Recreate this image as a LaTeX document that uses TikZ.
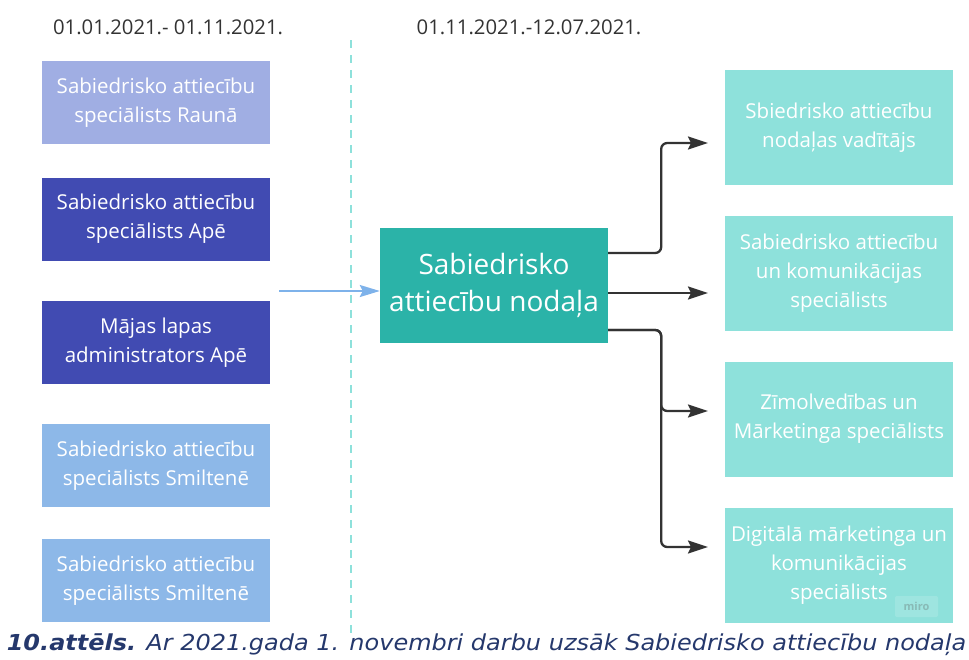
\documentclass[tikz,border=0pt]{standalone}
\usepackage{fontspec}
\setmainfont{Open Sans}
\newfontfamily\capfont{DejaVu Sans}
\usetikzlibrary{arrows.meta}
\definecolor{lilac}{HTML}{A0AEE3}
\definecolor{navy}{HTML}{414BB2}
\definecolor{sky}{HTML}{8DB8E8}
\definecolor{teal}{HTML}{2BB3A8}
\definecolor{mint}{HTML}{8EE1DB}
\definecolor{ink}{HTML}{333333}
\definecolor{capblue}{HTML}{25386C}
\definecolor{flow}{HTML}{7EB2EA}
\tikzset{
  unit/.style={rectangle,inner sep=0pt,minimum width=228pt,text=white,align=center,
    font=\fontsize{20.5}{29}\selectfont},
  oldunit/.style={unit,minimum height=83pt},
  newunit/.style={unit,fill=mint,minimum height=115pt},
  period/.style={text=ink,font=\fontsize{20.3}{24}\selectfont},
  link/.style={ink,line width=2.3pt,rounded corners=6pt,-{Stealth[length=20pt,width=13pt,inset=3pt]}}
}
\begin{document}
\begin{tikzpicture}[x=1pt,y=-1pt]
  \useasboundingbox (0,0) rectangle (969,659);
  % periods
  \node[period] (p1) at (168,27) {01.01.2021.- 01.11.2021.};
  \node[period] (p2) at (529,27) {01.11.2021.-12.07.2021.};
  \draw[mint,line width=2pt,dash pattern=on 8pt off 7pt] (351,40) -- (351,636);
  % before
  \node[oldunit,fill=lilac] (rauna) at (156,102.5) {Sabiedrisko attiecību\\speciālists Raunā};
  \node[oldunit,fill=navy] (ape) at (156,219) {Sabiedrisko attiecību\\speciālists Apē};
  \node[oldunit,fill=navy] (admin) at (156,342.5) {Mājas lapas\\administrators Apē};
  \node[oldunit,fill=sky] (smilt1) at (156,465.5) {Sabiedrisko attiecību\\speciālists Smiltenē};
  \node[oldunit,fill=sky] (smilt2) at (156,580.5) {Sabiedrisko attiecību\\speciālists Smiltenē};
  % after
  \node[unit,fill=teal,minimum height=115pt,font=\fontsize{28}{37}\selectfont] (dept) at (494,285.5)
    {Sabiedrisko\\attiecību nodaļa};
  \node[newunit] (head) at (839,127.5) {Sbiedrisko attiecību\\nodaļas vadītājs};
  \node[newunit] (comm) at (839,273) {Sabiedrisko attiecību\\un komunikācijas\\speciālists};
  \node[newunit] (brand) at (839,419) {Zīmolvedības un\\Mārketinga speciālists};
  \node[newunit] (digi) at (839,565) {Digitālā mārketinga un\\komunikācijas\\speciālists};
  \node[rounded corners=2pt,fill=white,fill opacity=0.15,text opacity=1,text=mint!60!gray,
    minimum width=43pt,minimum height=21pt,inner sep=0pt,font=\fontsize{11}{13}\selectfont\bfseries]
    (miro) at (916.5,606.5) {miro};
  \coordinate (src) at (279,291);
  \coordinate (t1) at (708,143);
  \coordinate (t2) at (708,293);
  \coordinate (t3) at (708,411);
  \coordinate (t4) at (708,547);
  \begin{scope}
    \draw[flow,line width=2pt,-{Stealth[length=20pt,width=12pt,inset=3pt]}] (src) -- ([yshift=-5.5pt]dept.west);
    \draw[link] ([yshift=32.5pt]dept.east) -- ++(53,0) |- (t1);
    \draw[link] ([yshift=-7.5pt]dept.east) -- (t2);
    \draw[link] ([yshift=-44.5pt]dept.east) -- ++(53,0) |- (t3);
    \draw[link] ([yshift=-44.5pt]dept.east) -- ++(53,0) |- (t4);
  \end{scope}
  \node[text=capblue,font=\capfont\fontsize{22}{24}\selectfont\itshape] (cap) at (486.5,645)
    {\scalebox{1.09}[1]{\textbf{10.attēls.} Ar 2021.gada 1. novembri darbu uzsāk Sabiedrisko attiecību nodaļa}};
\end{tikzpicture}
\end{document}
